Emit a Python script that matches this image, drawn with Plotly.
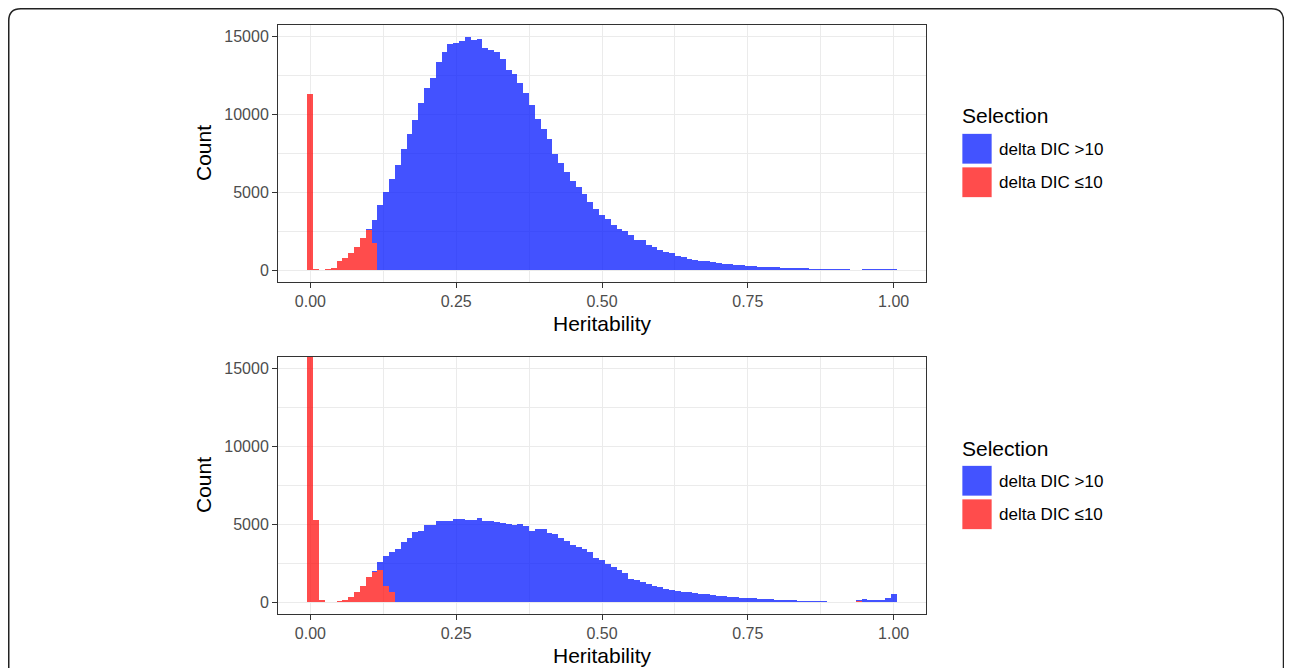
import plotly.graph_objects as go

# ---------------- data ----------------
bins = [round(k * 0.01, 2) for k in range(101)]

series_names = ["delta DIC >10", "delta DIC \u226410"]
legend_title = "Selection"
x_tick_vals = [0, 0.25, 0.5, 0.75, 1.0]
x_tick_text = ["0.00", "0.25", "0.50", "0.75", "1.00"]
y_tick_vals = [0, 5000, 10000, 15000]
y_tick_text = ["0", "5000", "10000", "15000"]

top_red = [11300, 80, 40, 100, 170, 580, 820, 1130, 1520, 2050, 2570, 1780,
           0, 0, 0, 0, 0, 0, 0, 0, 0, 0, 0, 0, 0, 0, 0, 0, 0, 0,
           0, 0, 0, 0, 0, 0, 0, 0, 0, 0, 0, 0, 0, 0, 0, 0, 0, 0,
           0, 0, 0, 0, 0, 0, 0, 0, 0, 0, 0, 0, 0, 0, 0, 0, 0, 0,
           0, 0, 0, 0, 0, 0, 0, 0, 0, 0, 0, 0, 0, 0, 0, 0, 0, 0,
           0, 0, 0, 0, 0, 0, 0, 0, 0, 0, 0, 0, 0, 0, 0, 0, 30]

top_blue = [0, 0, 0, 0, 0, 0, 0, 0, 0, 0,
            60, 1450, 4170, 5040, 5840, 6790, 7820, 8730, 9680, 10730,
            11680, 12370, 13400, 14030, 14520, 14610, 14740, 15000, 14790, 14850,
            14270, 14150, 14020, 13590, 12870, 12590, 12010, 11410, 10620, 9720,
            9060, 8420, 7460, 6920, 6330, 5730, 5360, 4920, 4400, 3910,
            3570, 3310, 2910, 2670, 2540, 2240, 1970, 1920, 1650, 1500,
            1280, 1200, 1110, 940, 830, 730, 680, 620, 580, 510,
            470, 430, 385, 360, 320, 280, 255, 235, 215, 210,
            190, 170, 165, 150, 130, 125, 105, 100, 85, 80,
            65, 60, 55, 45, 40, 60, 60, 80, 80, 85,
            80]

bot_red = [17500, 5270, 170, 20, 20, 90, 180, 335, 675, 1080, 1600, 1920, 2055, 1040, 650, 40,
           0, 0, 0, 0, 0, 0, 0, 0, 0, 0, 0, 0, 0, 0, 0, 0, 0, 0, 0, 0, 0, 0, 0, 0, 0, 0,
           0, 0, 0, 0, 0, 0, 0, 0, 0, 0, 0, 0, 0, 0, 0, 0, 0, 0, 0, 0, 0, 0, 0, 0, 0, 0,
           0, 0, 0, 0, 0, 0, 0, 0, 0, 0, 0, 0, 0, 0, 0, 0, 0, 0, 0, 0, 0, 0, 0, 0, 0, 0,
           60]

bot_blue = [0, 0, 0, 0, 0, 0, 0, 0, 0, 0, 0,
            60, 530, 1930, 2560, 3400, 3850, 4150, 4540, 4580,
            4940, 4960, 5220, 5190, 5190, 5350, 5340, 5300, 5300, 5420,
            5240, 5190, 5130, 5120, 5040, 4940, 5000, 4890, 4590, 4700,
            4700, 4420, 4380, 4140, 3920, 3690, 3530, 3450, 3230, 2870,
            2720, 2440, 2240, 2070, 1880, 1510, 1440, 1330, 1185, 1060,
            970, 860, 775, 755, 690, 645, 600, 560, 515, 475,
            430, 390, 365, 345, 300, 280, 260, 235, 215, 195,
            170, 150, 130, 125, 110, 85, 65, 60, 60, 45,
            40, 25, 25, 45, 85, 235, 175, 150, 175, 280,
            520]

# ---------------- style ----------------
OFF = 8                      # page body margin of the html file
W, H = 1292 - OFF, 668 - OFF
BLUE = "rgba(4,24,255,0.75)"
RED = "rgba(255,16,16,0.75)"
BLUE_KEY = "#4353FF"
RED_KEY = "#FF4C4C"
FONT = "Liberation Sans, Arial, Helvetica, sans-serif"
GRID = "#EBEBEB"
AXC = "#333333"

def px_x(x):
    return (x - OFF) / W

def px_y(y):
    return 1 - (y - OFF) / H

panel_left, panel_right = 278, 926
panels = [(25, 282), (357, 614)]

fig = go.Figure()

data_sets = [(top_red, top_blue), (bot_red, bot_blue)]
for i, (red, blue) in enumerate(data_sets):
    xa = "x" if i == 0 else "x2"
    ya = "y" if i == 0 else "y2"
    fig.add_trace(go.Bar(x=bins, y=red, width=0.01, name=series_names[1],
                         marker=dict(color=RED, line=dict(width=0)),
                         xaxis=xa, yaxis=ya, showlegend=False))
    fig.add_trace(go.Bar(x=bins, y=blue, width=0.01, name=series_names[0],
                         marker=dict(color=BLUE, line=dict(width=0)),
                         xaxis=xa, yaxis=ya, showlegend=False))

def xaxis_cfg(anchor):
    return dict(
        domain=[px_x(panel_left), px_x(panel_right)], anchor=anchor,
        range=[-0.0555, 1.0555], tickmode="array", tickvals=x_tick_vals, ticktext=x_tick_text,
        showgrid=True, gridcolor=GRID, gridwidth=1.4, zeroline=False,
        showline=True, mirror=True, linecolor=AXC, linewidth=1,
        ticks="outside", ticklen=5, tickwidth=1, tickcolor=AXC,
        tickfont=dict(family=FONT, size=16, color="#4D4D4D"),
        minor=dict(tickmode="array", tickvals=[0.125, 0.375, 0.625, 0.875],
                   showgrid=True, gridcolor=GRID, gridwidth=0.8, ticks=""),
        automargin=False, fixedrange=True,
    )

def yaxis_cfg(anchor, top, bottom):
    return dict(
        domain=[px_y(bottom), px_y(top)], anchor=anchor,
        range=[-750, 15750], tickmode="array", tickvals=y_tick_vals, ticktext=y_tick_text,
        showgrid=True, gridcolor=GRID, gridwidth=1.4, zeroline=False,
        showline=True, mirror=True, linecolor=AXC, linewidth=1,
        ticks="outside", ticklen=5, tickwidth=1, tickcolor=AXC,
        tickfont=dict(family=FONT, size=16, color="#4D4D4D"),
        minor=dict(tickmode="array", tickvals=[2500, 7500, 12500],
                   showgrid=True, gridcolor=GRID, gridwidth=0.8, ticks=""),
        automargin=False, fixedrange=True,
    )

annotations = []
shapes = []
for i, (top, bottom) in enumerate(panels):
    cy = (top + bottom) / 2
    # axis titles
    annotations.append(dict(text="Heritability", x=px_x((panel_left + panel_right) / 2),
                            y=px_y(bottom + 41), xref="paper", yref="paper",
                            showarrow=False, xanchor="center", yanchor="middle",
                            font=dict(family=FONT, size=21, color="black")))
    annotations.append(dict(text="Count", x=px_x(203.5), y=px_y(cy), xref="paper", yref="paper",
                            showarrow=False, textangle=-90, xanchor="center", yanchor="middle",
                            font=dict(family=FONT, size=21, color="black")))
    # legend (drawn manually to match key size)
    off = top - 25
    annotations.append(dict(text=legend_title, x=px_x(960), y=px_y(116 + off), xref="paper", yref="paper",
                            showarrow=False, xanchor="left", yanchor="middle",
                            font=dict(family=FONT, size=21, color="black")))
    keys = [(series_names[0], BLUE_KEY, 133.5), (series_names[1], RED_KEY, 167)]
    for name, col, ky in keys:
        shapes.append(dict(type="rect", xref="paper", yref="paper",
                           x0=px_x(962), x1=px_x(992), y0=px_y(ky + off), y1=px_y(ky + 30.5 + off),
                           fillcolor=col, line=dict(width=0.8, color="rgba(255,255,255,0.9)")))
        annotations.append(dict(text=name, x=px_x(997), y=px_y(ky + 15.5 + off), xref="paper", yref="paper",
                                showarrow=False, xanchor="left", yanchor="middle",
                                font=dict(family=FONT, size=17, color="black")))

# outer rounded frame
x0f, x1f, y0f, r = 8.75, 1283.5, 8.75, 12
path = (f"M {px_x(x0f)},{px_y(700)} L {px_x(x0f)},{px_y(y0f + r)} "
        f"Q {px_x(x0f)},{px_y(y0f)} {px_x(x0f + r)},{px_y(y0f)} "
        f"L {px_x(x1f - r)},{px_y(y0f)} Q {px_x(x1f)},{px_y(y0f)} {px_x(x1f)},{px_y(y0f + r)} "
        f"L {px_x(x1f)},{px_y(700)}")
shapes.append(dict(type="path", path=path, xref="paper", yref="paper",
                   line=dict(color="#222222", width=1.5)))

fig.update_layout(
    width=W, height=H,
    margin=dict(l=0, r=0, t=0, b=0),
    paper_bgcolor="white", plot_bgcolor="white",
    barmode="stack", bargap=0,
    showlegend=False,
    xaxis=xaxis_cfg("y"),
    yaxis=yaxis_cfg("x", *panels[0]),
    xaxis2=xaxis_cfg("y2"),
    yaxis2=yaxis_cfg("x2", *panels[1]),
    annotations=annotations,
    shapes=shapes,
    font=dict(family=FONT),
)

fig.write_html("out.html")
